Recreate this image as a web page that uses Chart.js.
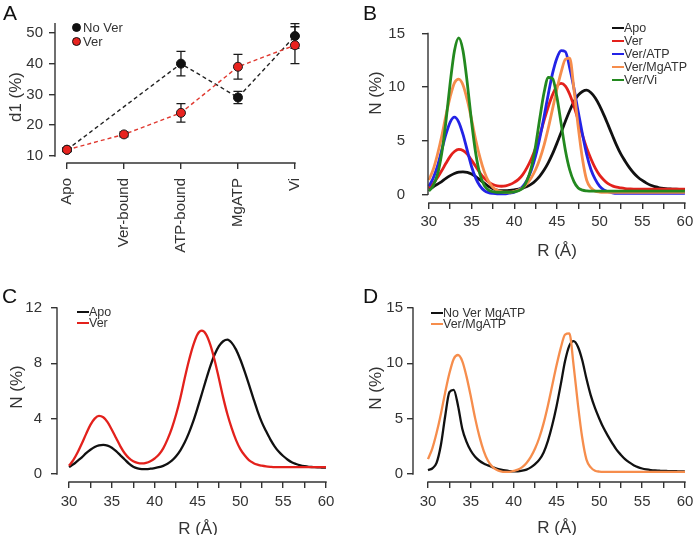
<!DOCTYPE html>
<html>
<head>
<meta charset="utf-8">
<script src="https://cdn.jsdelivr.net/npm/chart.js@4.4.1/dist/chart.umd.min.js"></script>
<style>
    html, body { margin: 0; padding: 0; background: #fff; }
    body { width: 693px; height: 535px; position: relative; overflow: hidden;
           font-family: Arial, "Liberation Sans", Helvetica, sans-serif; color: #333; }
    canvas { position: absolute; }
    .letter { position: absolute; font-size: 21px; line-height: 21px; color: #111; }
    .title { position: absolute; font-size: 17px; line-height: 17px; white-space: nowrap;
             color: #333; transform: translate(-50%, -50%); }
    .title.rot { transform: translate(-50%, -50%) rotate(-90deg); }
    .legend { position: absolute; font-size: 12.5px; color: #333; }
    .legend .row { display: flex; align-items: center; white-space: nowrap; }
    .legend .swatch { display: inline-block; width: 12px; height: 0; border-top: 2.5px solid; }
    .legend .dot { display: inline-block; width: 9px; height: 9px; border-radius: 50%;
                   border: 1px solid #111; box-sizing: border-box; margin-right: 2px; }
</style>
</head>
<body>
<canvas id="chartA" width="350" height="270" style="left:0;top:0"></canvas>
<canvas id="chartB" width="360" height="270" style="left:350px;top:0"></canvas>
<canvas id="chartC" width="350" height="265" style="left:0;top:270px"></canvas>
<canvas id="chartD" width="360" height="265" style="left:350px;top:270px"></canvas>

<div class="letter" style="left:3px;top:2px">A</div>
<div class="letter" style="left:363px;top:2px">B</div>
<div class="letter" style="left:2px;top:285px">C</div>
<div class="letter" style="left:363px;top:285px">D</div>

<div class="title rot" style="left:15px;top:97px">d1 (%)</div>
<div class="title rot" style="left:375px;top:93px">N (%)</div>
<div class="title" style="left:557px;top:250px">R (Å)</div>
<div class="title rot" style="left:16px;top:387px">N (%)</div>
<div class="title" style="left:198px;top:528px">R (Å)</div>
<div class="title rot" style="left:375px;top:388px">N (%)</div>
<div class="title" style="left:557px;top:527px">R (Å)</div>

<div class="legend" id="legendA" style="left:72px;top:20px"></div>
<div class="legend" id="legendB" style="left:612px;top:21px"></div>
<div class="legend" id="legendC" style="left:77px;top:306px"></div>
<div class="legend" id="legendD" style="left:431px;top:307px"></div>

<script>
// Panel A - d1 population per state
const states = ['Apo', 'Ver-bound', 'ATP-bound', 'MgATP', 'Vi'];
const d1NoVer = [12, null, 40, 29, 49];
const d1NoVerErr = [0.6, null, 4, 2, 4];
const d1Ver = [12, 17, 24, 39, 46];
const d1VerErr = [0.6, 0.8, 3, 4, 6];
const d1Ticks = [10, 20, 30, 40, 50];

// Panels B-D - distance distributions, N (%) against R (Å)
const rValues = [30, 30.5, 31, 31.5, 32, 32.5, 33, 33.5, 34, 34.5,
    35, 35.5, 36, 36.5, 37, 37.5, 38, 38.5, 39, 39.5,
    40, 40.5, 41, 41.5, 42, 42.5, 43, 43.5, 44, 44.5,
    45, 45.5, 46, 46.5, 47, 47.5, 48, 48.5, 49, 49.5,
    50, 50.5, 51, 51.5, 52, 52.5, 53, 53.5, 54, 54.5,
    55, 55.5, 56, 56.5, 57, 57.5, 58, 58.5, 59, 59.5, 60];

const nApo = [0.5, 0.7, 0.95, 1.2, 1.5, 1.75, 1.95, 2.07, 2.1, 2.05,
    1.9, 1.65, 1.35, 1.05, 0.75, 0.52, 0.4, 0.35, 0.35, 0.38,
    0.43, 0.49, 0.59, 0.74, 0.96, 1.28, 1.71, 2.27, 2.97, 3.8,
    4.76, 5.78, 6.82, 7.8, 8.64, 9.25, 9.6, 9.72, 9.48, 8.99,
    8.28, 7.42, 6.48, 5.51, 4.57, 3.75, 3.1, 2.5, 2.0, 1.6,
    1.3, 1.05, 0.85, 0.72, 0.62, 0.56, 0.52, 0.5, 0.48, 0.47, 0.46];

const nVer = [0.6, 1.0, 1.55, 2.2, 2.9, 3.55, 4.0, 4.2, 4.1, 3.75,
    3.2, 2.6, 2.0, 1.5, 1.15, 0.92, 0.8, 0.76, 0.8, 0.92,
    1.12, 1.4, 1.85, 2.5, 3.3, 4.3, 5.5, 6.9, 8.2, 9.3,
    10.1, 10.36, 10.1, 9.34, 8.23, 6.9, 5.52, 4.3, 3.3, 2.45,
    1.8, 1.35, 1.0, 0.8, 0.67, 0.6, 0.55, 0.52, 0.5, 0.5,
    0.5, 0.5, 0.5, 0.5, 0.5, 0.5, 0.5, 0.5, 0.5, 0.5, 0.5];

const nVerAtp = [0.77, 1.5, 2.6, 4.1, 5.6, 6.75, 7.2, 6.75, 5.6, 4.1,
    2.6, 1.5, 0.77, 0.36, 0.17, 0.09, 0.05, 0.05, 0.06, 0.13,
    0.22, 0.41, 0.75, 1.34, 2.26, 3.56, 5.27, 7.27, 9.37, 11.3,
    12.7, 13.4, 13.3, 11.8, 9.9, 7.7, 5.6, 3.7, 2.3, 1.4,
    0.77, 0.43, 0.25, 0.15, 0.1, 0.1, 0.1, 0.1, 0.1, 0.1,
    0.1, 0.1, 0.1, 0.1, 0.1, 0.1, 0.1, 0.1, 0.1, 0.1, 0.1];

const nVerMgAtp = [1.34, 2.3, 3.7, 5.4, 7.35, 9.1, 10.4, 10.75, 10.2, 8.8,
    7.0, 5.05, 3.4, 2.1, 1.2, 0.67, 0.39, 0.25, 0.2, 0.2,
    0.28, 0.4, 0.62, 1.0, 1.55, 2.3, 3.3, 4.6, 6.2, 8.0,
    9.8, 11.4, 12.6, 12.7, 9.8, 6.3, 3.3, 1.3, 0.6, 0.3,
    0.22, 0.2, 0.2, 0.2, 0.2, 0.2, 0.2, 0.2, 0.2, 0.2,
    0.2, 0.2, 0.2, 0.2, 0.2, 0.2, 0.2, 0.2, 0.2, 0.2, 0.2];

const nVerVi = [0.3, 0.8, 1.84, 3.8, 6.8, 10.4, 13.4, 14.6, 13.4, 10.4,
    6.8, 3.8, 1.84, 0.83, 0.41, 0.25, 0.2, 0.2, 0.2, 0.2,
    0.24, 0.34, 0.6, 1.3, 2.5, 4.5, 7.1, 9.5, 10.9, 10.8,
    9.1, 6.6, 4.1, 2.3, 1.2, 0.6, 0.4, 0.33, 0.3, 0.3,
    0.3, 0.3, 0.3, 0.3, 0.3, 0.3, 0.3, 0.3, 0.3, 0.3,
    0.3, 0.3, 0.3, 0.3, 0.3, 0.3, 0.3, 0.3, 0.3, 0.3, 0.3];

const nNoVerMgAtp = [0.36, 0.5, 1.0, 2.6, 5.2, 7.4, 7.6, 6.2, 4.1, 2.9,
    2.1, 1.56, 1.2, 0.95, 0.78, 0.63, 0.5, 0.4, 0.32, 0.27,
    0.25, 0.25, 0.3, 0.4, 0.6, 0.9, 1.3, 1.95, 3.0, 4.4,
    6.1, 8.1, 10.2, 11.6, 12.0, 11.5, 10.3, 8.6, 7.1, 5.95,
    5.0, 4.15, 3.45, 2.8, 2.2, 1.75, 1.35, 1.05, 0.8, 0.62,
    0.5, 0.42, 0.36, 0.32, 0.3, 0.28, 0.27, 0.26, 0.25, 0.24, 0.22];

const rTicks = [30, 32.5, 35, 37.5, 40, 42.5, 45, 47.5, 50, 52.5, 55, 57.5, 60];
const nTicks15 = [0, 5, 10, 15];
const nTicks12 = [0, 4, 8, 12];

const COLORS = {
    apo: '#111111',
    ver: '#e3211c',
    verAtp: '#2323e6',
    verMgAtp: '#f68d4c',
    verVi: '#23891f'
};
const AXIS = '#333333';

Chart.defaults.font.family = 'Arial, "Liberation Sans", Helvetica, sans-serif';
Chart.defaults.color = '#333333';

// R-style detached axis lines drawn over a value span
const spanAxes = {
    id: 'spanAxes',
    afterDraw(chart, args, opts) {
        const { ctx, chartArea, scales: { x, y } } = chart;
        ctx.save();
        ctx.strokeStyle = AXIS;
        ctx.lineWidth = 1.4;
        ctx.lineCap = 'square';
        ctx.beginPath();
        ctx.moveTo(x.getPixelForValue(opts.x[0]), chartArea.bottom);
        ctx.lineTo(x.getPixelForValue(opts.x[1]), chartArea.bottom);
        ctx.moveTo(chartArea.left, y.getPixelForValue(opts.y[0]));
        ctx.lineTo(chartArea.left, y.getPixelForValue(opts.y[1]));
        ctx.stroke();
        ctx.restore();
    }
};

// Vertical error bars with caps, drawn under the markers
const errorBars = {
    id: 'errorBars',
    beforeDatasetsDraw(chart) {
        const { ctx, scales: { x, y } } = chart;
        ctx.save();
        ctx.strokeStyle = '#1a1a1a';
        ctx.lineWidth = 1.3;
        chart.data.datasets.forEach(ds => {
            if (!ds.errors) return;
            ds.data.forEach((p, i) => {
                const e = ds.errors[i];
                if (p.y == null || !e) return;
                const px = x.getPixelForValue(p.x);
                const top = y.getPixelForValue(p.y + e);
                const bot = y.getPixelForValue(p.y - e);
                ctx.beginPath();
                ctx.moveTo(px, top); ctx.lineTo(px, bot);
                ctx.moveTo(px - 4.5, top); ctx.lineTo(px + 4.5, top);
                ctx.moveTo(px - 4.5, bot); ctx.lineTo(px + 4.5, bot);
                ctx.stroke();
            });
        });
        ctx.restore();
    }
};

function scaleOptions(cfg) {
    return {
        x: {
            type: 'linear',
            min: cfg.xMin,
            max: cfg.xMax,
            border: { display: false },
            grid: { drawOnChartArea: false, drawTicks: true, tickLength: 6, color: AXIS, lineWidth: 1.4 },
            ticks: {
                autoSkip: false,
                padding: cfg.xPad,
                font: { size: 15 },
                minRotation: cfg.xRot || 0,
                maxRotation: cfg.xRot || 0,
                callback: cfg.xLabel
            },
            afterBuildTicks: s => { s.ticks = cfg.xTicks.map(v => ({ value: v })); },
            afterFit: s => { s.height = cfg.xHeight; }
        },
        y: {
            type: 'linear',
            min: cfg.yMin,
            max: cfg.yMax,
            border: { display: false },
            grid: { drawOnChartArea: false, drawTicks: true, tickLength: 6, color: AXIS, lineWidth: 1.4 },
            ticks: { autoSkip: false, padding: cfg.yPad, font: { size: 15 } },
            afterBuildTicks: s => { s.ticks = cfg.yTicks.map(v => ({ value: v })); },
            afterFit: s => { s.width = cfg.yWidth; }
        }
    };
}

function baseOptions(cfg) {
    return {
        responsive: false,
        animation: false,
        devicePixelRatio: 1,
        layout: { padding: { left: 0, top: cfg.top, right: cfg.right, bottom: 0 } },
        scales: scaleOptions(cfg),
        plugins: {
            legend: { display: false },
            tooltip: { enabled: false },
            spanAxes: { x: cfg.xSpan, y: cfg.ySpan }
        }
    };
}

function curve(label, values, color, width, order) {
    return {
        label: label,
        data: rValues.map((r, i) => ({ x: r, y: values[i] })),
        borderColor: color,
        borderWidth: width,
        pointRadius: 0,
        cubicInterpolationMode: 'monotone',
        fill: false,
        clip: 4,
        order: order
    };
}

function rLabel(v) {
    return v % 5 === 0 ? String(v) : '';
}

// Panel A
new Chart(document.getElementById('chartA'), {
    type: 'line',
    data: {
        datasets: [{
            label: 'Ver',
            data: states.map((s, i) => ({ x: i, y: d1Ver[i] })),
            errors: d1VerErr,
            borderColor: '#e0382f',
            borderWidth: 1.4,
            borderDash: [4, 3],
            pointRadius: 4.5,
            pointBackgroundColor: '#e8231f',
            pointBorderColor: '#1a1a1a',
            pointBorderWidth: 1,
            tension: 0,
            clip: false,
            order: 1
        }, {
            label: 'No Ver',
            data: states.map((s, i) => ({ x: i, y: d1NoVer[i] })),
            errors: d1NoVerErr,
            spanGaps: true,
            borderColor: '#222222',
            borderWidth: 1.4,
            borderDash: [4, 3],
            pointRadius: 4.5,
            pointBackgroundColor: '#111111',
            pointBorderColor: '#111111',
            pointBorderWidth: 1,
            tension: 0,
            clip: false,
            order: 2
        }]
    },
    options: baseOptions({
        top: 20, right: 46.5,
        xMin: -0.21, xMax: 4.15, xTicks: states.map((s, i) => i), xPad: 9, xRot: 90, xHeight: 107,
        xLabel: v => states[v],
        yMin: 7.7, yMax: 54.2, yTicks: d1Ticks, yPad: 6, yWidth: 55,
        xSpan: [0, 4], ySpan: [10, 53]
    }),
    plugins: [spanAxes, errorBars]
});

// Panel B
new Chart(document.getElementById('chartB'), {
    type: 'line',
    data: {
        datasets: [
            curve('Apo', nApo, COLORS.apo, 2.8, 5),
            curve('Ver', nVer, COLORS.ver, 2.8, 4),
            curve('Ver/ATP', nVerAtp, COLORS.verAtp, 2.8, 3),
            curve('Ver/MgATP', nVerMgAtp, COLORS.verMgAtp, 2.8, 2),
            curve('Ver/Vi', nVerVi, COLORS.verVi, 2.8, 1)
        ]
    },
    options: baseOptions({
        top: 20.3, right: 25.1,
        xMin: 29.9, xMax: 60, xTicks: rTicks, xPad: 4, xHeight: 67, xLabel: rLabel,
        yMin: -0.8, yMax: 15.7, yTicks: nTicks15, yPad: 17, yWidth: 78,
        xSpan: [30, 60], ySpan: [0, 15]
    }),
    plugins: [spanAxes]
});

// Panel C
new Chart(document.getElementById('chartC'), {
    type: 'line',
    data: {
        datasets: [
            curve('Apo', nApo, COLORS.apo, 2.3, 2),
            curve('Ver', nVer, COLORS.ver, 2.3, 1)
        ]
    },
    options: baseOptions({
        top: 30, right: 24,
        xMin: 28.6, xMax: 60, xTicks: rTicks, xPad: 5, xHeight: 53, xLabel: rLabel,
        yMin: -0.58, yMax: 12.58, yTicks: nTicks12, yPad: 9, yWidth: 57,
        xSpan: [30, 60], ySpan: [0, 12]
    }),
    plugins: [spanAxes]
});

// Panel D
new Chart(document.getElementById('chartD'), {
    type: 'line',
    data: {
        datasets: [
            curve('No Ver MgATP', nNoVerMgAtp, COLORS.apo, 2.3, 2),
            curve('Ver/MgATP', nVerMgAtp, COLORS.verMgAtp, 2.3, 1)
        ]
    },
    options: baseOptions({
        top: 30, right: 25,
        xMin: 28.25, xMax: 60, xTicks: rTicks, xPad: 5, xHeight: 53, xLabel: rLabel,
        yMin: -0.72, yMax: 15.72, yTicks: nTicks15, yPad: 4, yWidth: 63,
        xSpan: [30, 60], ySpan: [0, 15]
    }),
    plugins: [spanAxes]
});

// HTML legends
function lineLegend(id, items, rowHeight) {
    const box = document.getElementById(id);
    items.forEach(([name, color]) => {
        const row = document.createElement('div');
        row.className = 'row';
        row.style.height = rowHeight + 'px';
        row.innerHTML = '<span class="swatch" style="border-color:' + color + '"></span>' + name;
        box.appendChild(row);
    });
}

lineLegend('legendB', [['Apo', COLORS.apo], ['Ver', COLORS.ver], ['Ver/ATP', COLORS.verAtp],
    ['Ver/MgATP', COLORS.verMgAtp], ['Ver/Vi', COLORS.verVi]], 13);
lineLegend('legendC', [['Apo', COLORS.apo], ['Ver', COLORS.ver]], 11);
lineLegend('legendD', [['No Ver MgATP', COLORS.apo], ['Ver/MgATP', COLORS.verMgAtp]], 11);

const legendA = document.getElementById('legendA');
[['No Ver', '#111111'], ['Ver', '#e8231f']].forEach(([name, fill]) => {
    const row = document.createElement('div');
    row.className = 'row';
    row.style.height = '14px';
    row.style.fontSize = '13px';
    row.innerHTML = '<span class="dot" style="background:' + fill + '"></span>' + name;
    legendA.appendChild(row);
});
</script>
</body>
</html>
